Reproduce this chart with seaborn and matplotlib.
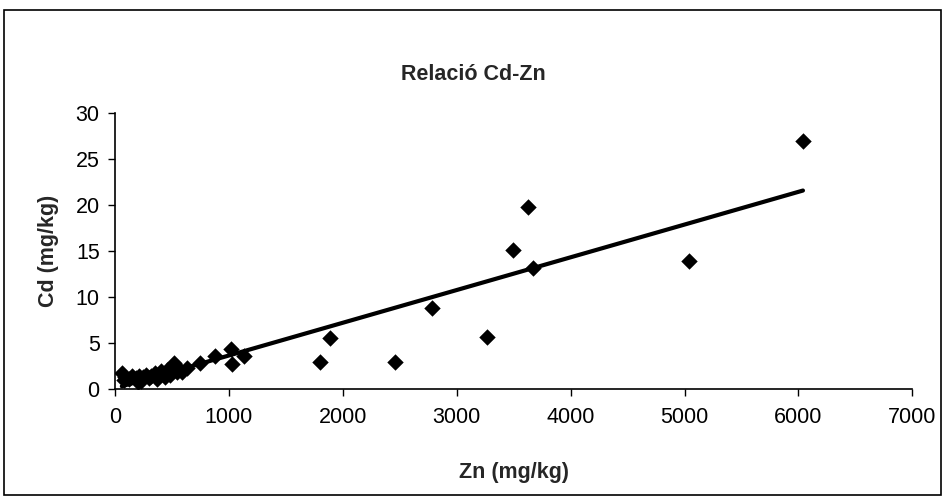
import matplotlib
matplotlib.use("Agg")
import matplotlib.pyplot as plt
import seaborn as sns
import pandas as pd
from matplotlib.patches import Rectangle

zn = [60, 75, 90, 120, 150, 180, 200, 210, 230, 250, 270, 300, 320, 350, 370, 390,
      400, 420, 440, 460, 480, 500, 520, 540, 560, 585, 630, 750, 880, 1020, 1025,
      1130, 1800, 1890, 2460, 2780, 3270, 3490, 3630, 3670, 5040, 6040]
cd = [1.8, 1.0, 1.3, 1.1, 1.4, 1.2, 0.8, 1.5, 0.9, 1.3, 1.6, 1.2, 1.5, 1.8, 1.1, 1.4,
      2.0, 1.7, 1.3, 2.1, 1.6, 2.4, 2.9, 1.9, 2.2, 1.9, 2.3, 2.9, 3.6, 4.4, 2.8,
      3.6, 3.0, 5.6, 3.0, 8.8, 5.7, 15.1, 19.8, 13.2, 13.9, 27.0]
x_ticks = [0, 1000, 2000, 3000, 4000, 5000, 6000, 7000]
y_ticks = [0, 5, 10, 15, 20, 25, 30]

df = pd.DataFrame({"Zn": zn, "Cd": cd})

sns.set_style("ticks")
plt.rcParams["font.family"] = ["Liberation Sans", "DejaVu Sans"]

fig = plt.figure(figsize=(9.46, 5.01), dpi=100)
ax = fig.add_axes([115 / 946, 1 - 389.3 / 501, (912.3 - 115) / 946, (389.3 - 113.3) / 501])

sns.regplot(data=df, x="Zn", y="Cd", ax=ax, ci=None, truncate=True, marker="D", color="black",
            scatter_kws=dict(s=70, edgecolor="black", linewidths=0, alpha=1, zorder=3),
            line_kws=dict(color="black", linewidth=3, zorder=2))

ax.set_xlim(0, 7000)
ax.set_ylim(0, 30)
ax.set_xticks(x_ticks)
ax.set_yticks(y_ticks)
ax.tick_params(axis="both", labelsize=15.5, length=5, width=1, color="black", labelcolor="black", direction="out")
ax.tick_params(axis="x", pad=8)
ax.tick_params(axis="y", pad=6)
ax.set_xlabel("Zn (mg/kg)", fontsize=15.5, fontweight="bold", labelpad=24)
ax.set_ylabel("Cd (mg/kg)", fontsize=15.5, fontweight="bold", labelpad=12)
for s in ["left", "bottom"]:
    ax.spines[s].set_color("black")
    ax.spines[s].set_linewidth(1.2)
sns.despine(ax=ax)

fig.text(0.5, 1 - 75 / 501, "Relació Cd-Zn", ha="center", va="center", fontsize=15.5, fontweight="bold")
fig.patches.append(Rectangle((4 / 946, 1 - 495 / 501), 937 / 946, 485 / 501,
                             transform=fig.transFigure, fill=False, edgecolor="black", linewidth=1.2))

fig.savefig("out.png", dpi=100)
